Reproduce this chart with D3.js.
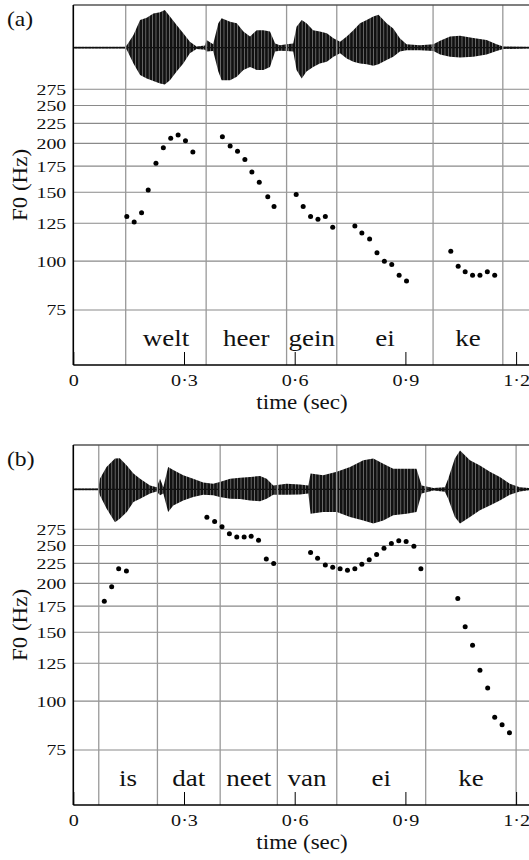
<!DOCTYPE html>
<html>
<head>
<meta charset="utf-8">
<script src="https://cdn.jsdelivr.net/npm/d3@7"></script>
<style>
  body { margin: 0; background: #fff; }
  svg { display: block; }
  text { font-family: "Liberation Serif", "Times New Roman", serif; fill: #111; }
</style>
</head>
<body>
<div class="chart"></div>
<script>
// shared axis values
const timeTicks = [0, 0.3, 0.6, 0.9, 1.2];
const f0Ticks = [75, 100, 125, 150, 175, 200, 225, 250, 275];

// ---- panel (a): "welt heer gein ei ke"
const wordsA = ["welt", "heer", "gein", "ei", "ke"];
const boundsA = [0.142, 0.360, 0.578, 0.714, 0.975, 1.164];
const f0TimeA = [0.145, 0.165, 0.185, 0.203, 0.224, 0.244, 0.264, 0.284, 0.304, 0.324,
                 0.404, 0.425, 0.445, 0.465, 0.484, 0.504, 0.527, 0.544,
                 0.604, 0.623, 0.643, 0.663, 0.683, 0.703,
                 0.763, 0.782, 0.803, 0.823, 0.843, 0.863, 0.883, 0.903,
                 1.023, 1.043, 1.062, 1.082, 1.102, 1.122, 1.142];
const f0HzA = [130, 126, 133, 152, 178, 195, 206, 210, 203, 190,
               208, 197, 191, 182, 169, 159, 146, 138,
               148, 138, 130, 128, 130, 122,
               123, 118, 114, 105, 100, 98, 92, 89,
               106, 97, 94, 92, 92, 94, 92];
// waveform envelope, % of full swing above / below the zero line
const waveTimeA = [0, 0.140, 0.145, 0.163, 0.181, 0.199, 0.217, 0.235, 0.248, 0.262, 0.280, 0.298, 0.316, 0.334,
                   0.357, 0.361, 0.379, 0.393, 0.402, 0.425, 0.443, 0.461, 0.479, 0.497, 0.515, 0.533, 0.547,
                   0.560, 0.578, 0.596, 0.605, 0.619, 0.632, 0.650, 0.668, 0.687, 0.705, 0.723, 0.741, 0.759,
                   0.777, 0.795, 0.813, 0.827, 0.849, 0.867, 0.885, 0.903, 0.939, 0.976, 0.994, 1.021, 1.048,
                   1.084, 1.120, 1.147, 1.165, 1.236];
const waveUpA = [2, 2, 6, 30, 65, 70, 80, 83, 88, 73, 53, 34, 14, 3,
                 5, 18, 8, 57, 69, 61, 57, 38, 26, 41, 41, 38, 10,
                 6, 8, 10, 49, 65, 57, 41, 38, 34, 22, 14, 26, 41,
                 57, 65, 73, 77, 57, 45, 22, 8, 6, 8, 16, 26, 28,
                 23, 18, 8, 3, 2];
const waveDownA = [2, 2, 5, 37, 64, 72, 78, 84, 86, 76, 56, 37, 13, 3,
                   5, 9, 8, 56, 76, 76, 68, 52, 45, 52, 52, 45, 9,
                   7, 8, 9, 52, 72, 56, 45, 37, 33, 21, 13, 25, 33,
                   37, 39, 42, 39, 29, 21, 9, 6, 6, 8, 16, 21, 23,
                   21, 16, 8, 3, 2];

// ---- panel (b): "is dat neet van ei ke"
const wordsB = ["is", "dat", "neet", "van", "ei", "ke"];
const boundsB = [0.069, 0.228, 0.398, 0.553, 0.714, 0.955, 1.200];
const f0TimeB = [0.084, 0.104, 0.123, 0.144,
                 0.362, 0.383, 0.403, 0.423, 0.443, 0.463, 0.482, 0.502, 0.523, 0.543,
                 0.643, 0.662, 0.683, 0.703, 0.723, 0.743, 0.763, 0.782, 0.802, 0.822,
                 0.842, 0.862, 0.882, 0.902, 0.923, 0.942,
                 1.042, 1.062, 1.082, 1.102, 1.123, 1.142, 1.162, 1.182];
const f0HzB = [180, 196, 218, 215,
               295, 288, 279, 268, 263, 263, 264, 258, 231, 225,
               240, 232, 223, 220, 218, 216, 218, 224, 230, 237,
               246, 253, 257, 256, 249, 218,
               183, 155, 139, 120, 108, 91, 87, 83];
const waveTimeB = [0, 0.068, 0.072, 0.090, 0.113, 0.126, 0.145, 0.163, 0.181, 0.208, 0.226, 0.235, 0.244,
                   0.257, 0.271, 0.298, 0.325, 0.352, 0.379, 0.397, 0.425, 0.452, 0.479, 0.506, 0.524, 0.542,
                   0.578, 0.614, 0.637, 0.643, 0.677, 0.714, 0.750, 0.786, 0.813, 0.840, 0.867, 0.903, 0.930,
                   0.944, 0.976, 1.007, 1.016, 1.034, 1.048, 1.075, 1.102, 1.129, 1.156, 1.183, 1.210, 1.236];
const waveUpB = [2, 2, 25, 52, 72, 73, 56, 37, 25, 9, 5, 25, 5,
                 52, 45, 33, 25, 16, 13, 17, 25, 27, 29, 31, 25, 9,
                 13, 11, 9, 37, 33, 41, 52, 68, 72, 60, 48, 48, 48,
                 9, 3, 5, 25, 72, 91, 68, 56, 41, 29, 13, 5, 3];
const waveDownB = [2, 2, 14, 45, 77, 69, 53, 30, 22, 10, 5, 14, 10,
                   53, 38, 26, 18, 13, 14, 18, 22, 23, 26, 28, 22, 13,
                   13, 12, 10, 57, 53, 53, 65, 73, 80, 73, 61, 57, 53,
                   10, 3, 6, 22, 65, 80, 65, 49, 38, 26, 13, 5, 2];

const W = 529, H = 860;
const left = 73.3;
const stretch = 1.15;   // the printed face is wider than Liberation Serif

const svg = d3.select(".chart").append("svg")
    .attr("width", W)
    .attr("height", H);

// thin pale stripes so the waveform reads as pulses, not a solid blob
const pat = svg.append("defs").append("pattern")
    .attr("id", "pulses")
    .attr("patternUnits", "userSpaceOnUse")
    .attr("width", 3.4).attr("height", 10);
pat.append("rect").attr("width", 3.4).attr("height", 10).attr("fill", "#111");
pat.append("rect").attr("x", 2.6).attr("width", 0.8).attr("height", 10).attr("fill", "#777");

const x = d3.scaleLinear().domain([0, 1.2]).range([left, 516.1]);
const y = d3.scaleLog().domain([75, 275]).range([310, 89.3]);

function addText(g, str, px, py, size, anchor, rot) {
    return g.append("text")
        .attr("transform", `translate(${px},${py}) rotate(${rot || 0}) scale(${stretch},1)`)
        .attr("text-anchor", anchor || "middle")
        .attr("font-size", size)
        .text(str);
}

function drawPanel(p) {
    const g = svg.append("g").attr("transform", `translate(0,${p.offset})`);
    const top = 5, base = 365;

    // waveform band
    const amp = d3.scaleLinear().domain([-100, 100]).range([p.waveMid + 42.7, p.waveMid - 42.7]);
    const wave = p.waveT.map((t, i) => ({t, up: p.waveUp[i], down: p.waveDown[i]}));
    g.append("path")
        .datum(wave)
        .attr("fill", "url(#pulses)")
        .attr("d", d3.area()
            .x(d => x(d.t))
            .y0(d => amp(-d.down))
            .y1(d => amp(d.up)));
    // zero line of the signal
    g.append("line")
        .attr("x1", left).attr("x2", W)
        .attr("y1", p.waveMid).attr("y2", p.waveMid)
        .attr("stroke", "#111")
        .attr("stroke-width", 1.2);

    // horizontal grid at F0 ticks
    g.selectAll(".hgrid")
        .data(f0Ticks)
        .join("line")
        .attr("class", "hgrid")
        .attr("x1", left).attr("x2", W)
        .attr("y1", d => y(d)).attr("y2", d => y(d))
        .attr("stroke", "#8a8a8a")
        .attr("stroke-width", 1.1);

    // segment boundaries
    g.selectAll(".vgrid")
        .data(p.bounds)
        .join("line")
        .attr("class", "vgrid")
        .attr("x1", d => x(d)).attr("x2", d => x(d))
        .attr("y1", top).attr("y2", base)
        .attr("stroke", "#999")
        .attr("stroke-width", 1.3);

    // top frame
    g.append("line")
        .attr("x1", left).attr("x2", W)
        .attr("y1", top).attr("y2", top)
        .attr("stroke", "#555")
        .attr("stroke-width", 1.3);

    // x axis: inward ticks
    const xAxis = d3.axisBottom(x)
        .tickValues(timeTicks)
        .tickSize(-13)
        .tickPadding(8.5)
        .tickFormat(d => d === 0 ? "0" : d3.format(".1f")(d).replace(".", "\u00b7"));
    const xg = g.append("g")
        .attr("transform", `translate(0,${base})`)
        .call(xAxis);
    xg.select(".domain").attr("d", `M${left},0H${W}`).attr("stroke", "#000").attr("stroke-width", 1.6);
    xg.selectAll(".tick line").attr("stroke", "#000").attr("stroke-width", 1);
    xg.selectAll(".tick text")
        .attr("font-family", "Liberation Serif")
        .attr("font-size", 17.5)
        .attr("fill", "#111")
        .attr("transform", `scale(${stretch},1)`);

    // y axis: labels only, grid drawn above
    const yAxis = d3.axisLeft(y)
        .tickValues(f0Ticks)
        .tickSize(0)
        .tickPadding(5.5);
    const yg = g.append("g")
        .attr("transform", `translate(${left},0)`)
        .call(yAxis);
    yg.select(".domain").attr("d", `M0,${top}V${base}`).attr("stroke", "#000").attr("stroke-width", 1.6);
    yg.selectAll(".tick text")
        .attr("font-family", "Liberation Serif")
        .attr("font-size", 15.5)
        .attr("fill", "#111")
        .attr("transform", `scale(1.28,1)`);

    // F0 points
    g.selectAll(".dot")
        .data(p.f0T.map((t, i) => ({t, hz: p.f0Hz[i]})))
        .join("circle")
        .attr("class", "dot")
        .attr("cx", d => x(d.t))
        .attr("cy", d => y(d.hz))
        .attr("r", 2.5)
        .attr("fill", "#000");

    // words centred in their segments
    p.words.forEach((w, i) => {
        addText(g, w, (x(p.bounds[i]) + x(p.bounds[i + 1])) / 2, 346, 23.5);
    });

    addText(g, p.tag, 7, 26, 20.5, "start");
    addText(g, "F0 (Hz)", 27, 185, 20, "middle", -90);
    addText(g, "time (sec)", 302, 409, 20);
}

drawPanel({offset: 0, tag: "(a)", waveMid: 47.7, words: wordsA, bounds: boundsA,
           f0T: f0TimeA, f0Hz: f0HzA, waveT: waveTimeA, waveUp: waveUpA, waveDown: waveDownA});
drawPanel({offset: 440, tag: "(b)", waveMid: 49.3, words: wordsB, bounds: boundsB,
           f0T: f0TimeB, f0Hz: f0HzB, waveT: waveTimeB, waveUp: waveUpB, waveDown: waveDownB});
</script>
</body>
</html>
